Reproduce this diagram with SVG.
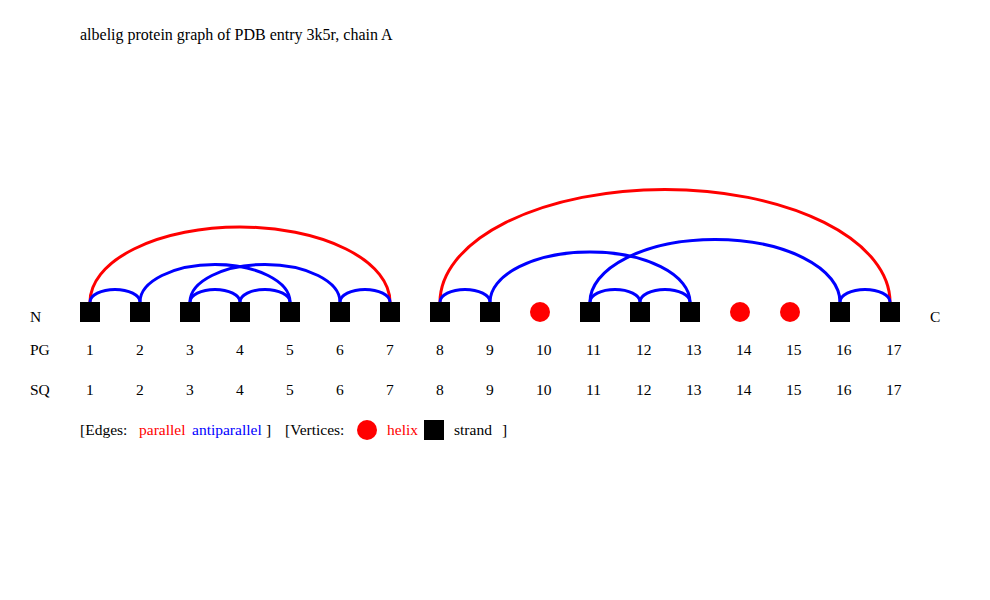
<svg xmlns="http://www.w3.org/2000/svg" width="990" height="600" viewBox="0 0 990 600">
<style>
text{font-family:"Liberation Serif","Times New Roman",serif;font-size:15.5px;fill:#000}
.t{font-size:16px}
.p{fill:none;stroke:#f00;stroke-width:3}
.a{fill:none;stroke:#00f;stroke-width:3}
.s{fill:#000}
.h{fill:#f00}
</style>
<rect width="990" height="600" fill="#fff"/>
<text class="t" x="80" y="40">albelig protein graph of PDB entry 3k5r, chain A</text>
<g id="edges">
<path class="p" d="M90 302 A150 75 0 0 1 390 302"/>
<path class="a" d="M90 302 A25 12.5 0 0 1 140 302"/>
<path class="a" d="M140 302 A75 37.5 0 0 1 290 302"/>
<path class="a" d="M190 302 A75 37.5 0 0 1 340 302"/>
<path class="a" d="M190 302 A25 12.5 0 0 1 240 302"/>
<path class="a" d="M240 302 A25 12.5 0 0 1 290 302"/>
<path class="a" d="M340 302 A25 12.5 0 0 1 390 302"/>
<path class="p" d="M440 302 A225 112.5 0 0 1 890 302"/>
<path class="a" d="M440 302 A25 12.5 0 0 1 490 302"/>
<path class="a" d="M490 302 A100 50 0 0 1 690 302"/>
<path class="a" d="M590 302 A125 62.5 0 0 1 840 302"/>
<path class="a" d="M590 302 A25 12.5 0 0 1 640 302"/>
<path class="a" d="M640 302 A25 12.5 0 0 1 690 302"/>
<path class="a" d="M840 302 A25 12.5 0 0 1 890 302"/>
</g>
<text x="30" y="322">N</text>
<text x="930" y="322">C</text>
<g id="n1"><rect class="s" x="80" y="302" width="20" height="20"/></g>
<g id="n2"><rect class="s" x="130" y="302" width="20" height="20"/></g>
<g id="n3"><rect class="s" x="180" y="302" width="20" height="20"/></g>
<g id="n4"><rect class="s" x="230" y="302" width="20" height="20"/></g>
<g id="n5"><rect class="s" x="280" y="302" width="20" height="20"/></g>
<g id="n6"><rect class="s" x="330" y="302" width="20" height="20"/></g>
<g id="n7"><rect class="s" x="380" y="302" width="20" height="20"/></g>
<g id="n8"><rect class="s" x="430" y="302" width="20" height="20"/></g>
<g id="n9"><rect class="s" x="480" y="302" width="20" height="20"/></g>
<g id="n10"><circle class="h" cx="540" cy="312" r="10"/></g>
<g id="n11"><rect class="s" x="580" y="302" width="20" height="20"/></g>
<g id="n12"><rect class="s" x="630" y="302" width="20" height="20"/></g>
<g id="n13"><rect class="s" x="680" y="302" width="20" height="20"/></g>
<g id="n14"><circle class="h" cx="740" cy="312" r="10"/></g>
<g id="n15"><circle class="h" cx="790" cy="312" r="10"/></g>
<g id="n16"><rect class="s" x="830" y="302" width="20" height="20"/></g>
<g id="n17"><rect class="s" x="880" y="302" width="20" height="20"/></g>
<g id="pg">
<text x="30" y="355">PG</text>
<text x="86" y="355">1</text><text x="136" y="355">2</text><text x="186" y="355">3</text><text x="236" y="355">4</text><text x="286" y="355">5</text><text x="336" y="355">6</text><text x="386" y="355">7</text><text x="436" y="355">8</text><text x="486" y="355">9</text><text x="536" y="355">10</text><text x="586" y="355">11</text><text x="636" y="355">12</text><text x="686" y="355">13</text><text x="736" y="355">14</text><text x="786" y="355">15</text><text x="836" y="355">16</text><text x="886" y="355">17</text>
</g>
<g id="sq">
<text x="30" y="395">SQ</text>
<text x="86" y="395">1</text><text x="136" y="395">2</text><text x="186" y="395">3</text><text x="236" y="395">4</text><text x="286" y="395">5</text><text x="336" y="395">6</text><text x="386" y="395">7</text><text x="436" y="395">8</text><text x="486" y="395">9</text><text x="536" y="395">10</text><text x="586" y="395">11</text><text x="636" y="395">12</text><text x="686" y="395">13</text><text x="736" y="395">14</text><text x="786" y="395">15</text><text x="836" y="395">16</text><text x="886" y="395">17</text>
</g>
<g id="legend">
<text x="80" y="435">[Edges:</text>
<text x="139" y="435" style="fill:#f00">parallel</text>
<text x="192" y="435" style="fill:#00f">antiparallel</text>
<text x="266" y="435">]</text>
<text x="285" y="435">[Vertices:</text>
<circle class="h" cx="367" cy="430" r="10"/>
<text x="387" y="435" style="fill:#f00">helix</text>
<rect class="s" x="424" y="420" width="20" height="20"/>
<text x="454" y="435">strand</text>
<text x="502" y="435">]</text>
</g>
</svg>
